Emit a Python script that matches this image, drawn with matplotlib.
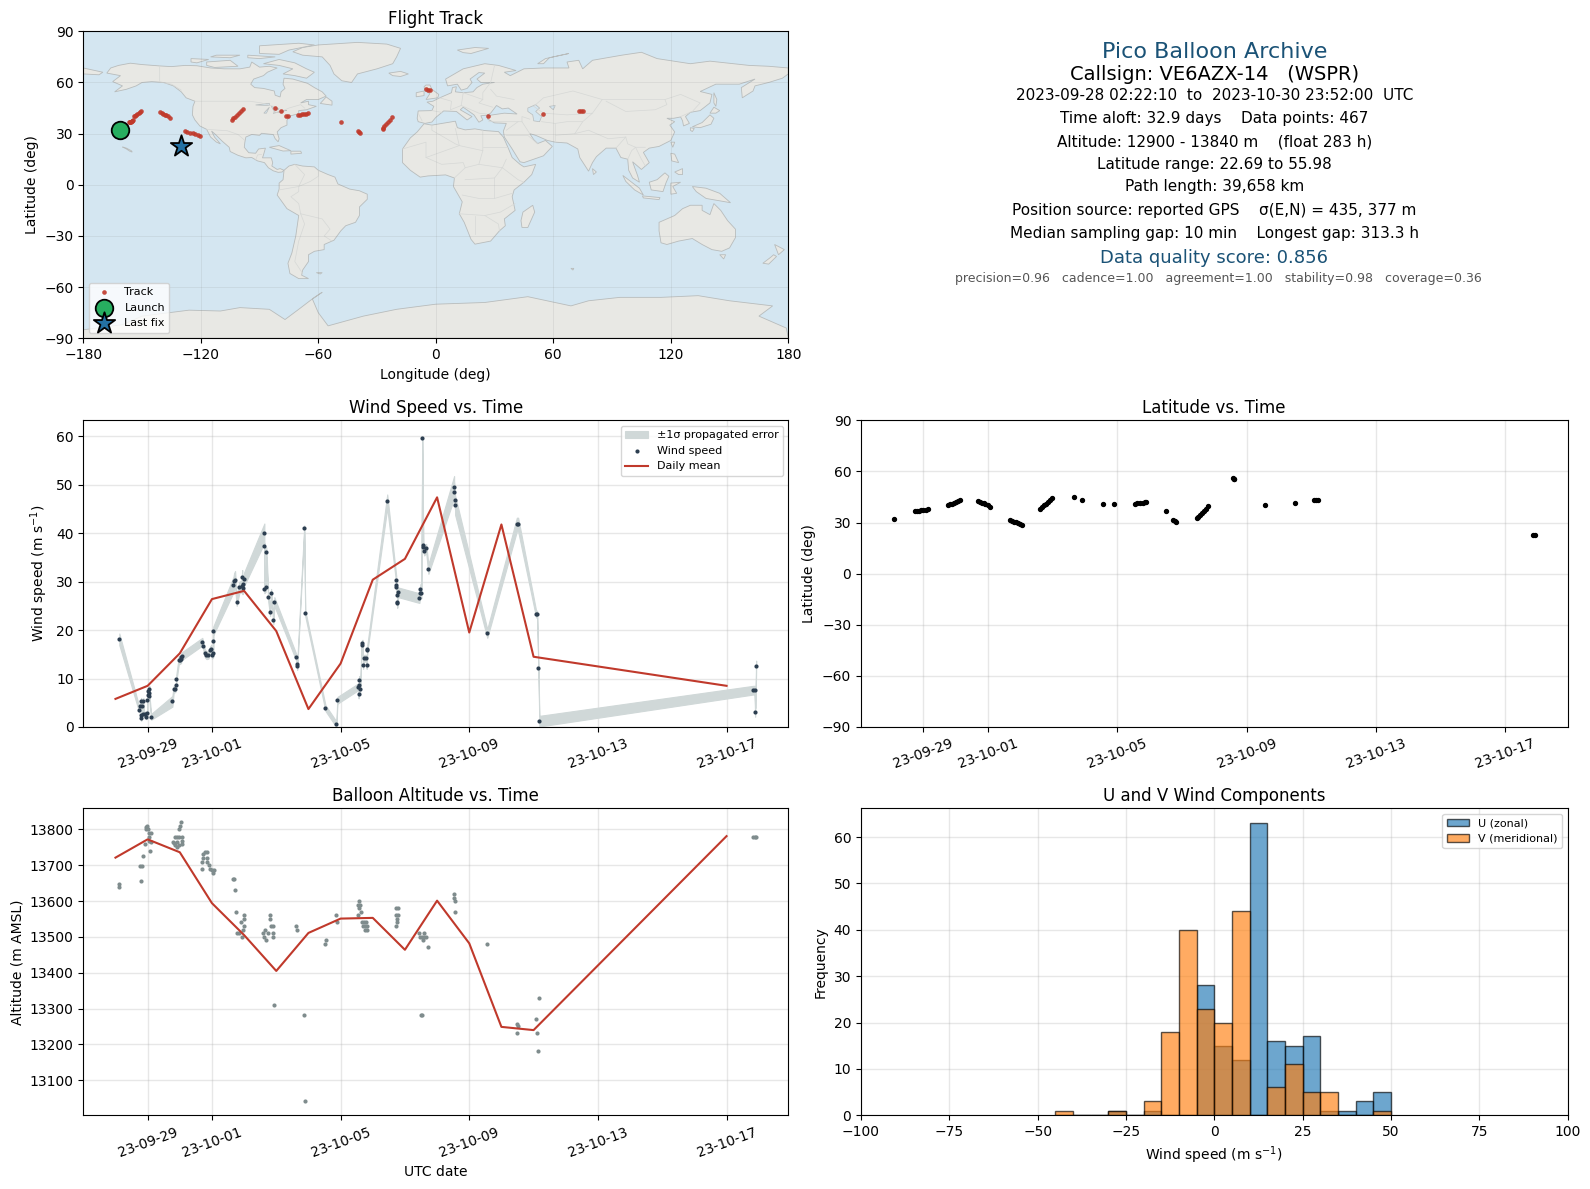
import datetime as dt
import numpy as np
import matplotlib
matplotlib.use("Agg")
import matplotlib.pyplot as plt
import matplotlib.dates as mdates
from matplotlib.patches import Polygon
from matplotlib.ticker import FixedLocator

# ---------- data: times are day numbers counted from 1 Sep 2023 (31 = 1 Oct) ----------
wind_day = [28.12, 28.74, 28.77, 28.80, 28.87, 28.83, 28.80, 28.80, 28.87, 28.93,
            28.99, 28.96, 28.99, 29.02, 29.05, 29.05, 29.02, 29.05, 29.11, 29.77,
            29.81, 29.86, 29.89, 29.89, 29.97, 30.00, 30.05, 30.08, 30.04, 30.70,
            30.73, 30.78, 30.83, 30.89, 30.94, 30.98, 31.00, 31.04, 31.04, 31.04,
            31.67, 31.69, 31.72, 31.77, 31.85, 31.92, 31.97, 31.94, 32.00, 31.95,
            32.63, 32.63, 32.69, 32.63, 32.67, 32.75, 32.84, 32.81, 32.94, 32.91,
            33.62, 33.65, 33.65, 33.87, 33.90, 34.53, 34.87, 34.90, 35.56, 35.58,
            35.55, 35.61, 35.58, 35.65, 35.68, 35.70, 35.73, 35.79, 35.81, 35.83,
            35.83, 36.45, 36.73, 36.73, 36.73, 36.79, 36.76, 36.76, 36.76, 37.45,
            37.47, 37.51, 37.48, 37.54, 37.57, 37.57, 37.60, 37.66, 37.73, 38.53,
            38.53, 38.56, 38.56, 39.56, 40.48, 40.52, 41.08, 41.11, 41.15, 41.18,
            47.83, 47.87, 47.92, 47.89]
wind_speed = [18.1, 3.6, 4.3, 5.3, 5.3, 4.3, 2.5, 1.8, 2.6, 2.7,
              2.8, 2.1, 5.5, 6.6, 7.1, 7.8, 7.5, 6.4, 2.1, 5.3,
              7.8, 7.9, 8.7, 10.0, 13.8, 13.8, 14.5, 14.7, 14.0, 17.6,
              16.7, 15.2, 14.8, 14.9, 15.8, 16.2, 14.9, 15.2, 17.7, 19.8,
              29.4, 30.2, 30.4, 25.9, 28.8, 29.0, 29.5, 31.0, 30.5, 28.6,
              40.0, 37.3, 36.1, 28.5, 28.8, 26.8, 27.6, 23.7, 25.9, 22.0,
              14.4, 12.9, 12.5, 41.0, 23.5, 3.9, 0.55, 5.5, 6.9, 8.7,
              8.3, 7.8, 9.8, 16.9, 17.3, 12.7, 14.2, 14.2, 12.7, 15.8,
              16.2, 46.6, 30.4, 29.3, 28.8, 27.8, 27.2, 25.9, 25.5, 26.6,
              27.6, 27.6, 28.5, 59.6, 37.6, 37.1, 36.3, 36.9, 32.6, 49.5,
              48.5, 46.8, 45.8, 19.3, 41.8, 41.8, 23.3, 23.3, 12.1, 1.2,
              7.6, 7.6, 12.5, 3.0]
wind_sigma = [1.2, 0.6, 0.6, 0.7, 0.7, 0.6, 0.5, 0.5, 0.5, 0.5,
              0.5, 0.5, 0.6, 0.6, 0.7, 0.7, 0.7, 0.6, 0.6, 1.1,
              0.7, 0.7, 0.7, 0.7, 0.8, 0.8, 0.8, 0.8, 0.8, 0.8,
              0.8, 0.8, 0.8, 0.8, 0.8, 0.8, 0.8, 0.8, 0.8, 0.9,
              1.6, 1.6, 1.8, 0.9, 1.2, 1.2, 1.2, 1.4, 1.4, 1.2,
              2.0, 1.2, 1.0, 0.9, 0.9, 0.9, 0.9, 0.8, 0.9, 0.8,
              0.7, 0.7, 0.7, 0.6, 0.6, 0.6, 0.6, 0.7, 1.0, 0.7,
              0.7, 0.7, 0.7, 0.7, 0.7, 0.7, 0.7, 0.7, 0.7, 0.7,
              0.7, 1.4, 0.8, 0.8, 0.8, 1.0, 0.9, 0.9, 0.9, 1.0,
              1.0, 1.0, 1.0, 0.4, 0.9, 0.9, 0.9, 0.9, 1.0, 2.3,
              2.3, 2.0, 2.0, 0.9, 1.4, 1.4, 0.7, 0.7, 0.5, 1.1,
              0.9, 0.9, 1.2, 0.9]

daily_day = [28, 29, 30, 31, 32, 33, 34, 35, 36, 37, 38, 39, 40, 41, 47]
daily_wind = [5.8, 8.5, 15.2, 26.4, 28.1, 19.8, 3.7, 13.1, 30.4, 34.7, 47.4, 19.5, 41.8, 14.5, 8.5]
daily_alt = [13721, 13772, 13736, 13594, 13505, 13405, 13511, 13551, 13553, 13464, 13601, 13482, 13249, 13240, 13781]

alt_day = [28.12, 28.12, 28.79, 28.76, 28.82, 28.87, 28.91, 28.96, 28.99, 29.02,
           28.96, 29.05, 29.11, 29.05, 29.05, 29.11, 29.08, 29.78, 29.81, 29.84,
           29.90, 29.96, 29.84, 29.90, 29.96, 29.90, 30.08, 30.08, 30.08, 29.98,
           30.02, 30.05, 30.70, 30.70, 30.73, 30.78, 30.84, 30.73, 30.84, 30.85,
           30.91, 30.95, 31.01, 31.04, 31.07, 31.66, 31.70, 31.72, 31.75, 31.78,
           31.85, 31.91, 31.94, 31.97, 32.00, 32.00, 32.00, 32.63, 32.60, 32.66,
           32.69, 32.75, 32.81, 32.81, 32.84, 32.91, 32.91, 32.91, 32.94, 33.62,
           33.65, 33.87, 33.90, 34.53, 34.55, 34.87, 34.90, 35.55, 35.58, 35.55,
           35.61, 35.58, 35.64, 35.67, 35.73, 35.79, 35.70, 35.76, 35.82, 35.76,
           35.82, 36.73, 36.77, 36.73, 36.79, 36.76, 36.76, 36.73, 37.45, 37.60,
           37.48, 37.54, 37.60, 37.66, 37.57, 37.73, 37.50, 37.54, 38.52, 38.52,
           38.56, 38.55, 39.55, 40.48, 40.51, 40.48, 41.07, 41.17, 41.10, 41.13,
           47.82, 47.88, 47.92]
alt_m = [13648, 13638, 13655, 13697, 13698, 13725, 13758, 13807, 13810, 13800,
         13800, 13789, 13789, 13778, 13768, 13766, 13739, 13766, 13761, 13778,
         13778, 13778, 13756, 13750, 13756, 13766, 13778, 13768, 13758, 13800,
         13809, 13820, 13688, 13709, 13730, 13737, 13738, 13720, 13720, 13709,
         13700, 13688, 13687, 13679, 13687, 13661, 13661, 13630, 13569, 13510,
         13510, 13541, 13499, 13519, 13560, 13549, 13530, 13499, 13510, 13518,
         13490, 13510, 13560, 13549, 13530, 13530, 13510, 13499, 13309, 13530,
         13518, 13281, 13042, 13479, 13490, 13560, 13541, 13560, 13599, 13588,
         13588, 13580, 13569, 13541, 13541, 13541, 13530, 13530, 13530, 13518,
         13518, 13580, 13580, 13560, 13560, 13549, 13541, 13530, 13510, 13510,
         13499, 13499, 13499, 13499, 13491, 13471, 13281, 13281, 13619, 13609,
         13599, 13569, 13479, 13258, 13251, 13231, 13270, 13329, 13231, 13181,
         13778, 13778, 13778]

track_day = [28.10, 28.74, 28.80, 28.86, 28.92, 29.00, 29.08, 29.13,
             29.76, 29.82, 29.88, 29.94, 30.00, 30.06, 30.12,
             30.68, 30.74, 30.80, 30.86, 30.92, 31.00, 31.07,
             31.67, 31.73, 31.80, 31.87, 31.94, 32.00, 32.06,
             32.60, 32.66, 32.72, 32.78, 32.85, 32.92, 32.99,
             33.65, 33.90, 34.55, 34.90,
             35.55, 35.62, 35.70, 35.78, 35.85, 35.89,
             36.49, 36.72, 36.77, 36.82,
             37.45, 37.50, 37.56, 37.62, 37.68, 37.74, 37.79,
             38.59, 38.60, 38.61, 39.56, 40.50, 41.08, 41.14, 41.20,
             47.84, 47.90]
track_lat = [31.9, 36.8, 36.9, 37.0, 37.1, 37.4, 37.5, 37.8,
             40.2, 40.6, 41.0, 41.5, 42.0, 42.5, 43.0,
             42.8, 42.2, 41.7, 41.2, 40.7, 40.1, 39.4,
             31.3, 30.9, 30.5, 30.1, 29.5, 29.0, 28.4,
             38.0, 39.0, 40.0, 41.0, 42.0, 43.2, 44.3,
             45.2, 43.2, 40.6, 40.6,
             41.0, 41.2, 41.4, 41.6, 41.8, 42.0,
             36.8, 31.4, 31.0, 30.4,
             32.9, 33.5, 34.5, 35.6, 36.9, 38.2, 39.6,
             55.9, 55.8, 55.7, 40.1, 41.7, 43.0, 43.0, 43.0,
             22.6, 22.6]
track_lon = [-161.5, -156.8, -156.4, -156.0, -155.6, -155.2, -155.0, -154.7,
             -154.3, -153.6, -153.0, -152.4, -151.8, -151.0, -150.4,
             -140.6, -139.9, -139.2, -138.5, -137.7, -136.8, -135.8,
             -128.3, -127.0, -125.5, -124.2, -122.8, -121.5, -120.2,
             -104.3, -103.4, -102.5, -101.6, -100.6, -99.6, -98.5,
             -82.3, -79.2, -76.3, -75.6,
             -70.2, -69.4, -68.4, -67.2, -66.2, -65.4,
             -48.3, -39.8, -39.2, -38.7,
             -27.2, -26.8, -26.2, -25.4, -24.6, -23.4, -22.2,
             -5.0, -4.0, -3.0, 26.7, 54.8, 73.3, 74.0, 75.0,
             -130.0, -130.0]

hist_edges = [-45, -40, -35, -30, -25, -20, -15, -10, -5, 0, 5, 10, 15, 20, 25, 30, 35, 40, 45, 50]
u_counts = [0, 0, 0, 1, 0, 1, 0, 0, 28, 15, 12, 63, 16, 15, 17, 1, 1, 3, 5]
v_counts = [1, 0, 0, 1, 0, 3, 18, 40, 23, 20, 44, 0, 6, 11, 5, 5, 0, 0, 1]

info_lines = [
    ("Pico Balloon Archive", 16, "#1a5276", 51.7, 1214.3),
    ("Callsign: VE6AZX-14   (WSPR)", 14, "black", 74.3, 1214.3),
    ("2023-09-28 02:22:10  to  2023-10-30 23:52:00  UTC", 11, "black", 95.0, 1214.3),
    ("Time aloft: 32.9 days    Data points: 467", 11, "black", 118.3, 1214.3),
    ("Altitude: 12900 - 13840 m    (float 283 h)", 11, "black", 141.7, 1214.3),
    ("Latitude range: 22.69 to 55.98", 11, "black", 164.3, 1214.3),
    ("Path length: 39,658 km", 11, "black", 187.0, 1214.3),
    ("Position source: reported GPS    σ(E,N) = 435, 377 m", 11, "black", 210.3, 1214.3),
    ("Median sampling gap: 10 min    Longest gap: 313.3 h", 11, "black", 233.7, 1214.3),
    ("Data quality score: 0.856", 13, "#1a5276", 257.7, 1214.3),
    ("precision=0.96   cadence=1.00   agreement=1.00   stability=0.98   coverage=0.36", 9, "#555555", 279.0, 1218.3),
]

# ---------- hand-read base map (lon, lat) ----------
land_polys = [
    [(-168,65.5),(-166,68.5),(-162,70),(-156,71.3),(-150,70.5),(-141,69.7),(-135,69.3),(-128,70),(-122,69.8),(-115,68.5),(-108,68),(-100,68),(-95,69),(-94,72),(-90,69),(-85,69.5),(-81,68.5),(-86,66),(-88,64),(-93,62),(-94.5,59),(-92.5,57),(-88,56.5),(-82.5,55),(-82,52.5),(-79.5,51.5),(-79,54.5),(-77,56.5),(-78,59),(-77.5,62.5),(-73,62),(-70,61),(-65.5,59.5),(-62,57),(-58,54.5),(-56,52),(-60,50),(-66,50),(-69,48),(-65,49),(-65,47),(-61,46),(-66,44),(-70,43.5),(-70,41.7),(-74,40.5),(-76,38),(-76,35),(-79,33.5),(-81,31),(-80,27),(-80.5,25.2),(-82,27),(-83,29.5),(-85,29.7),(-89,30.2),(-90,29),(-94,29.5),(-97,28),(-97.5,25),(-97.8,22),(-95.5,18.8),(-92,18.5),(-90.5,21),(-87,21.5),(-88,17.5),(-88.5,15.8),(-84,15.8),(-83.3,13),(-83.7,11),(-81,9),(-79.5,9.5),(-77.5,8.5),(-78.5,7.5),(-80.5,7.3),(-83,8.2),(-85.5,10),(-87.5,13),(-91,14),(-94,16),(-97,15.8),(-101,17.3),(-105,19.5),(-105.5,22),(-109,25.5),(-112.5,29.5),(-114.5,31.5),(-113,28),(-110,24),(-112,25),(-115,28),(-117,32.5),(-120.5,34.5),(-123,38),(-124.3,41),(-124,46),(-123,49),(-127.5,51),(-130,54.5),(-134,58),(-139,60),(-145,60.5),(-150,60),(-153,58),(-158,56),(-164,54.5),(-160,58),(-165,60.5),(-161,64)],
    [(-73,78),(-68,80.5),(-60,82),(-40,83.5),(-25,82.5),(-18,80),(-20,75),(-22,71),(-30,68),(-40,65),(-43,60),(-48,61),(-52,65),(-54,70),(-58,75),(-68,76)],
    [(-80,73.5),(-72,71.5),(-66,68),(-62,66),(-66,62.5),(-72,64),(-78,65),(-73,68),(-80,70),(-88,71)],
    [(-117,72),(-105,73),(-101,69.5),(-113,68.8),(-117,70)],
    [(-125,74),(-116,73.5),(-122,71.5),(-125,72)],
    [(-90,77),(-80,76.5),(-75,79),(-62,82),(-70,83),(-90,81.5)],
    [(-96,76),(-82,75),(-90,74),(-96,74.5)],
    [(-112,76),(-100,76),(-105,74.5),(-115,75)],
    [(-59,47.7),(-53,46.7),(-53,49),(-56,51.5)],
    [(-85,22),(-80,23),(-74,20),(-78,19.8)],
    [(-74,19.7),(-69,19.7),(-68.5,18.5),(-74,18)],
    [(-160,22.2),(-158,21.5),(-155.5,20),(-155,19.2),(-156,19.5),(-158,21)],
    [(-24,65.5),(-18,66.5),(-14,65),(-18,63.5),(-22,64)],
    [(-5,58.5),(-3,58.5),(-2,56),(1.5,53),(1,51),(-5,50),(-3,53.5),(-5.5,55),(-6,57.5)],
    [(-10,54),(-6,55),(-6,52.3),(-10,51.6)],
    [(11,79),(20,80.5),(27,80),(18,77),(14,77.5)],
    [(52,71),(56,74),(68,77),(58,74.5),(55,71)],
    [(-77.5,8.5),(-75,11),(-72,12),(-68,11),(-62,10.5),(-60,8.5),(-55,6),(-51.5,4.5),(-50,0.5),(-44,-2.5),(-39,-3.5),(-35,-5.5),(-35,-8.5),(-39,-13),(-39,-18),(-41,-22),(-46,-24),(-48.5,-27),(-52,-32.5),(-57,-35),(-57,-38),(-62,-39),(-65,-41),(-65,-45),(-68,-50),(-68.5,-53),(-65,-55),(-70,-55),(-74.5,-52),(-75.5,-46),(-73.5,-40),(-71.5,-30),(-70,-18),(-76,-14),(-81,-6),(-80,-2.5),(-80,1),(-78,3)],
    [(-61,-51.5),(-58,-51.5),(-59,-52.3)],
    [(-6,35.8),(-2,35),(10,37.3),(11,33.5),(15,32.2),(20,32.8),(25,31.8),(32,31.2),(34.5,28),(37,21.5),(39,16),(43,12),(45,10.5),(51,12),(49,6),(45,1.5),(40,-3),(39,-7),(40.5,-15),(35,-20),(35.5,-24),(32.5,-27),(28,-33),(20,-34.8),(18,-32),(14.5,-22),(12,-17),(13.5,-10),(9,-1),(9.5,4),(5,5.8),(-4,5.2),(-8,4.5),(-13,8.5),(-17,13),(-17,21),(-13,27.5),(-9.5,31)],
    [(49.5,-12),(50.5,-16),(47,-25),(44,-25),(43.5,-21),(44.5,-16)],
    [(-9,37),(-9.5,39),(-9,43.3),(-2,43.5),(-1,46),(-4.5,48.5),(-1.5,49),(2,51),(4,52),(8,54),(8.5,57),(10.5,57.5),(10,54.5),(14,54),(19,54.5),(21,57),(24,59),(30,60),(23,60),(21,62),(25,65.5),(22,65.8),(17.5,62),(18.5,60),(16,56.5),(13,55.5),(11,59),(6,58),(5,62),(14,68),(25,71),(32,70),(41,67),(35,66),(38,64),(45,68),(55,68.5),(68,68.5),(67,72),(73,73),(75,68),(80,73),(95,76),(105,77.7),(113,74),(130,71),(140,72.5),(160,70),(170,69.5),(180,68.5),(180,65),(177,62.5),(170,60),(163,58),(162,55),(156.5,51),(156,57),(163,62),(155,59),(143,59),(135,54.7),(141,53),(140,48),(135,43.5),(130,42.5),(127.5,40),(129.5,36),(126.5,34.5),(126,37.5),(125,39.8),(121.5,39),(118,39),(122,37),(119.5,35),(122,31),(120,26),(114,22.5),(109,21.5),(106,19),(109,13),(105,9),(100.5,13.5),(103,5.5),(104,1.5),(100.5,4),(98.5,8.5),(98,15),(94.5,16),(92,21.5),(87,21.5),(82,16.5),(80,13),(78,8),(73.5,16),(72.5,21),(67,24.5),(61,25),(57,26),(51,29),(48,30),(50,26.5),(52,24.2),(56,26),(59.5,22.5),(55,17),(45,13),(43,13.5),(39,21),(35,28),(34.5,31.5),(36,36),(30,36.3),(26.5,38.5),(26.5,40.5),(29,41),(35,42),(41.5,41.5),(37,45),(34,44.5),(31,46.5),(28,42),(26,40.8),(23,40.5),(24,38),(22,36.7),(19.5,41),(14,45.5),(12.5,44),(18.5,40),(16,38),(10.5,43),(4,43.3),(0,39.5),(-2,36.8),(-5.5,36)],
    [(-180,65),(-172,64.5),(-170,66),(-180,68.5)],
    [(80,9.5),(82,7.5),(80.5,6)],
    [(131,34),(136,36.5),(140,41),(142,39),(140.5,35.5),(135,33.5)],
    [(140,42),(142,45.5),(145,43.5),(143,42)],
    [(130,33.5),(132,33),(131,31.2),(130,32)],
    [(142,54),(143.5,50),(143,46),(142,48)],
    [(120,25),(122,25),(121,22)],
    [(120,18.5),(122,18),(124,13),(120.5,14)],
    [(122,7.5),(126,9.5),(126,6),(124,6)],
    [(109,1.5),(113,3),(117,7),(119,5),(117.5,1),(116,-4),(110,-3)],
    [(95.5,5.5),(104,-2),(106,-6),(101.5,-3),(97,2)],
    [(105.5,-6.5),(114.5,-7.5),(114,-8.7),(106,-7.7)],
    [(120,1),(125,1.5),(121,-1),(123,-5),(120,-5.5)],
    [(131,-1),(138,-2),(145,-5),(150.5,-10.5),(143,-9),(138,-8),(133,-4)],
    [(114,-22),(122,-18),(126,-14),(130,-12),(136,-12),(136,-15),(140,-17.5),(142,-11),(145.5,-15),(149,-21),(153,-26),(153,-31),(150,-37),(146,-39),(141,-38),(136,-35),(131,-31.5),(124,-33),(118,-35),(115,-34),(114,-27)],
    [(145,-41),(148,-41),(147,-43.5)],
    [(173,-35),(178,-38),(175,-41),(174,-38)],
    [(172.5,-41),(174,-42),(170,-46.5),(167,-46),(171,-42.5)],
    [(69,-49),(70.5,-49),(70,-50)],
    [(-180,-85),(-160,-82),(-150,-77),(-126,-73.5),(-110,-74),(-100,-72),(-85,-73),(-77,-79),(-70,-73),(-62,-66),(-58,-63),(-63,-67),(-60,-75),(-55,-82.7),(-37,-77),(-20,-73),(0,-70),(25,-69),(47,-65.6),(69,-71),(78,-68),(94,-66),(115,-66),(134,-65),(150,-68),(172,-71),(165,-77),(179,-84),(180,-90),(-180,-90)],
]
lake_polys = [
    [(47,45),(51,47),(53,45),(51,43),(54,40),(53,37),(50,37.5),(49.5,41),(47,43)],
    [(-92,46.8),(-85,47.8),(-85,46.5),(-88,46.6)],
    [(-87.8,42),(-85,45.5),(-86.5,42)],
    [(-84,46),(-80,44.5),(-82.5,43)],
    [(-83,42),(-76,43.7),(-79,43)],
    [(58,46),(61,46.5),(60,44)],
]
border_lines = [
    [(-141,69.7),(-141,60.3),(-135,59),(-130,55.5)],
    [(-123,49),(-95,49),(-89,48),(-83,46),(-82.5,42),(-79,43),(-75,45),(-69,47),(-67,45)],
    [(-117,32.5),(-106.5,31.7),(-101,29.5),(-97.5,26)],
    [(-92,14.5),(-91,17.5),(-89,17.8)],
    [(-72,12),(-67,6),(-70,-1),(-70,-4),(-74,-7),(-70,-11),(-69,-17)],
    [(-60,8.5),(-60,5),(-64,2),(-70,-1)],
    [(-69,-17),(-58,-20),(-54,-26),(-57,-30),(-53,-33)],
    [(-69,-17),(-67,-23),(-70,-33),(-72,-45),(-68,-52)],
    [(-80,-3),(-75,-2),(-70,-1)],
    [(-17,21),(-5,25),(-5,16),(12,23),(24,20),(24,32)],
    [(-2,35),(-2,32),(10,24),(12,23),(10,33)],
    [(24,22),(37,22)],
    [(24,20),(22,12),(15,10),(14,13),(3,12),(-5,16)],
    [(22,12),(34,10),(36,15)],
    [(34,10),(42,3),(45,1.5)],
    [(9.5,4),(15,10)],
    [(15,3),(30,4),(34,10)],
    [(13.5,-6),(22,-8),(30,-8),(30,4)],
    [(12,-17),(25,-18),(33,-16),(40.5,-11)],
    [(20,-29),(20,-18)],
    [(25,-18),(32,-23),(32.5,-27)],
    [(30,-8),(39,-5)],
    [(-9,42),(-7,37.5)],
    [(-2,43.5),(3,42.5)],
    [(2,51),(8,49),(7.5,44),(13,46.5),(14,54)],
    [(14,54),(24,50),(24,54),(28,60)],
    [(24,50),(22,48),(29,45.5)],
    [(13,46.5),(22,42),(26,41.5)],
    [(28,60),(30,70)],
    [(40,50),(31,52),(28,56)],
    [(27,37),(44,37),(48,30)],
    [(36,32),(42,37)],
    [(36,29),(47,29),(52,24)],
    [(44,37),(44,40),(48,38.5)],
    [(54,37),(61,36),(61,25)],
    [(61,36),(67,37),(75,37),(71,30),(61,29)],
    [(71,30),(78,32),(88,27),(97,28),(92,21.5)],
    [(50,46),(55,51),(70,55),(85,50),(97,50),(117,50),(125,53),(135,48),(131,43)],
    [(55,42),(67,41),(80,42),(75,37)],
    [(50,46),(55,42)],
    [(80,42),(85,50)],
    [(87,49),(97,43),(112,44),(118,47),(117,50)],
    [(97,28),(98,24),(102,22),(107,22)],
    [(98,15),(100,20),(102,22),(105,15),(107,11)],
    [(130,42.5),(125,40)],
]

# ---------- figure ----------
W, H = 1590, 1189
fig = plt.figure(figsize=(W / 100, H / 100), dpi=100)


def place(x0, x1, y0, y1):
    return fig.add_axes([x0 / W, 1 - y1 / H, (x1 - x0) / W, (y1 - y0) / H])


def dnum(days):
    return mdates.date2num(dt.datetime(2023, 9, 1)) + np.asarray(days, float) - 1


def ordered(days, *series):
    idx = np.argsort(days, kind="stable")
    return [np.asarray(days)[idx]] + [np.asarray(s)[idx] for s in series]


tick_dates = [dt.datetime(2023, 9, 29), dt.datetime(2023, 10, 1), dt.datetime(2023, 10, 5),
              dt.datetime(2023, 10, 9), dt.datetime(2023, 10, 13), dt.datetime(2023, 10, 17)]


def date_axis(ax, lo, hi):
    ax.set_xlim(dnum(lo), dnum(hi))
    ax.xaxis.set_major_locator(FixedLocator(mdates.date2num(tick_dates)))
    ax.xaxis.set_major_formatter(mdates.DateFormatter("%y-%m-%d"))
    ax.tick_params(axis="x", labelrotation=20)


GRID = dict(color="#b0b0b0", alpha=0.3, linewidth=1.0)
RED = "#c0392b"
TITLE_PAD = 5

# flight track
ax = place(83.3, 788.3, 31.3, 338.3)
ax.set_facecolor("#d4e6f1")
for poly in land_polys:
    ax.add_patch(Polygon(poly, closed=True, facecolor="#e8e8e4", edgecolor="#b8bcbc", linewidth=0.6, zorder=1))
for poly in lake_polys:
    ax.add_patch(Polygon(poly, closed=True, facecolor="#d4e6f1", edgecolor="#b8bcbc", linewidth=0.5, zorder=1.1))
for line in border_lines:
    xs, ys = zip(*line)
    ax.plot(xs, ys, color="#d6d8d6", linewidth=0.5, zorder=1.2)
ax.grid(True, color="#808080", alpha=0.15, linewidth=0.6, zorder=1.5)
ax.scatter(track_lon[1:-1], track_lat[1:-1], s=11, color=RED, alpha=0.9, linewidth=0, zorder=3, label="Track")
ax.scatter(track_lon[0], track_lat[0], s=160, color="#27ae60", edgecolor="black", linewidth=1.3, zorder=4, label="Launch")
ax.scatter(track_lon[-1], track_lat[-1], s=260, marker="*", color="#2471a3", edgecolor="black", linewidth=1.3, zorder=4, label="Last fix")
ax.set_xlim(-180, 180)
ax.set_ylim(-90, 90)
ax.set_xticks(np.arange(-180, 181, 60))
ax.set_yticks(np.arange(-90, 91, 30))
ax.set_xticklabels(["\u2212180", "\u2212120", "\u221260", "0", "60", "120", "180"])
ax.set_yticklabels(["\u221290", "\u221260", "\u221230", "0", "30", "60", "90"])
ax.set_xlabel("Longitude (deg)")
ax.set_ylabel("Latitude (deg)")
ax.set_title("Flight Track", fontsize=12, pad=TITLE_PAD)
ax.legend(loc="lower left", fontsize=8, framealpha=0.8)

# info block
for text, size, colour, ypx, xpx in info_lines:
    fig.text(xpx / W, 1 - ypx / H, text, fontsize=size, color=colour, ha="center", va="center")

# wind speed
ax = place(83.3, 788.3, 420.3, 727)
d, s, e = ordered(wind_day, wind_speed, wind_sigma)
ax.fill_between(dnum(d), s - e, s + e, facecolor="#d0d8d8", edgecolor="#d0d8d8", linewidth=0.8, label="\u00b11\u03c3 propagated error", zorder=2)
ax.scatter(dnum(d), s, s=9, color="#2c3e50", linewidth=0, zorder=3, label="Wind speed")
ax.plot(dnum(daily_day), daily_wind, color=RED, linewidth=1.5, zorder=4, label="Daily mean")
ax.set_ylim(0, 63.3)
ax.grid(True, **GRID)
ax.set_axisbelow(True)
date_axis(ax, 27.0, 48.92)
ax.set_ylabel("Wind speed (m s$^{-1}$)")
ax.set_title("Wind Speed vs. Time", fontsize=12, pad=TITLE_PAD)
ax.legend(loc="upper right", fontsize=8)

# latitude
ax = place(861, 1567.5, 420.3, 727)
ax.scatter(dnum(track_day), track_lat, s=8, color="black", zorder=3)
ax.set_ylim(-90, 90)
ax.set_yticks(np.arange(-90, 91, 30))
ax.set_yticklabels(["\u221290", "\u221260", "\u221230", "0", "30", "60", "90"])
ax.grid(True, **GRID)
ax.set_axisbelow(True)
date_axis(ax, 27.07, 48.92)
ax.set_ylabel("Latitude (deg)")
ax.set_title("Latitude vs. Time", fontsize=12, pad=TITLE_PAD)

# altitude
ax = place(83.3, 788.3, 808.3, 1115.3)
ax.scatter(dnum(alt_day), alt_m, s=9, color="#7f8c8d", linewidth=0, zorder=3)
ax.plot(dnum(daily_day), daily_alt, color=RED, linewidth=1.5, zorder=4)
ax.set_ylim(13002.4, 13858.6)
ax.set_yticks(np.arange(13100, 13801, 100))
ax.grid(True, **GRID)
ax.set_axisbelow(True)
date_axis(ax, 27.0, 48.92)
ax.set_xlabel("UTC date")
ax.set_ylabel("Altitude (m AMSL)")
ax.set_title("Balloon Altitude vs. Time", fontsize=12, pad=TITLE_PAD)

# histogram
ax = place(861, 1567.5, 808.3, 1115.3)
left = np.asarray(hist_edges[:-1], float)
ax.bar(left, u_counts, width=5, align="edge", color="#1f77b4", alpha=0.65, edgecolor="black", linewidth=1.0, label="U (zonal)", zorder=3)
ax.bar(left, v_counts, width=5, align="edge", color="#ff7f0e", alpha=0.65, edgecolor="black", linewidth=1.0, label="V (meridional)", zorder=3)
ax.set_xlim(-100, 100)
ax.set_ylim(0, 66.2)
ax.set_xticks(np.arange(-100, 101, 25))
ax.set_xticklabels(["\u2212100", "\u221275", "\u221250", "\u221225", "0", "25", "50", "75", "100"])
ax.grid(True, **GRID)
ax.set_axisbelow(True)
ax.set_xlabel("Wind speed (m s$^{-1}$)")
ax.set_ylabel("Frequency")
ax.set_title("U and V Wind Components", fontsize=12, pad=TITLE_PAD)
ax.legend(loc="upper right", fontsize=8)

fig.savefig("out.png", dpi=100)
